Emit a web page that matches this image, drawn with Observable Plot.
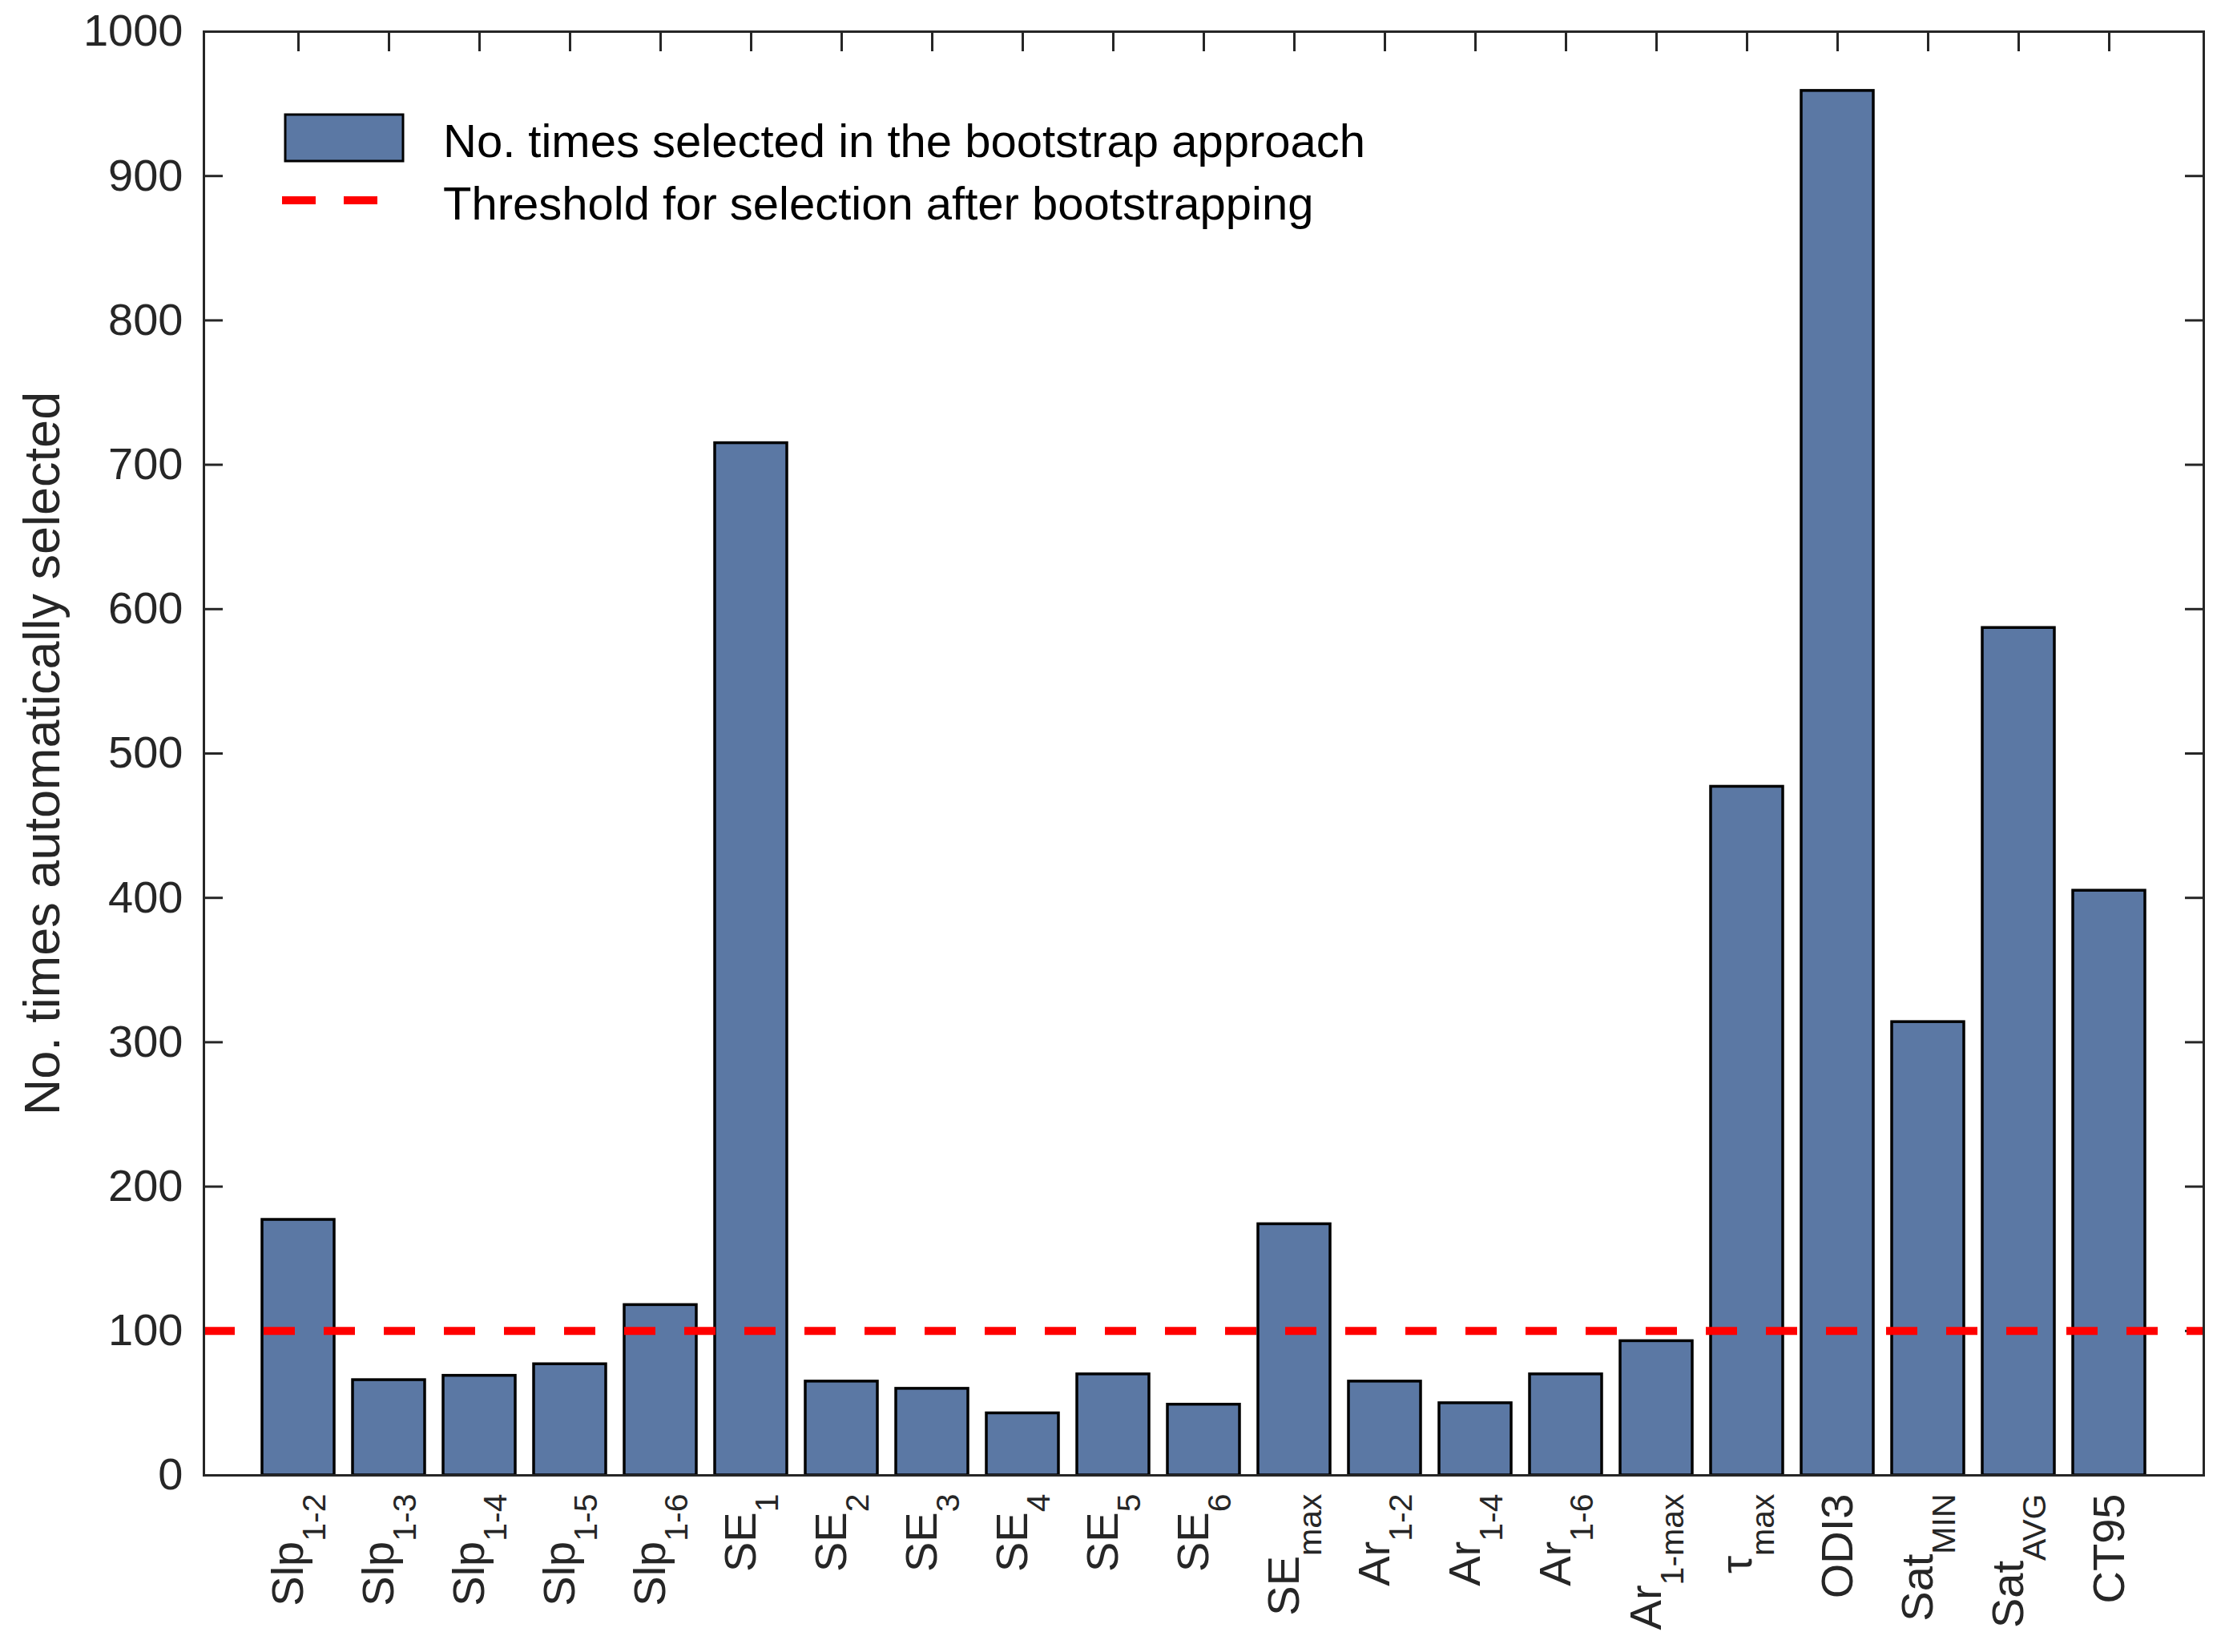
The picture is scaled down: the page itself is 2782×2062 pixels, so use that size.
<!DOCTYPE html>
<html>
<head>
<meta charset="utf-8">
<script src="https://cdn.jsdelivr.net/npm/d3@7"></script>
<script src="https://cdn.jsdelivr.net/npm/@observablehq/plot@0.6"></script>
<style>
  html, body { margin: 0; padding: 0; background: #fff; }
  #chart svg { display: block; }
</style>
</head>
<body>
<div id="chart"></div>
<script>
// ---- data ----
const labelMain = ["Slp","Slp","Slp","Slp","Slp","SE","SE","SE","SE","SE","SE","SE","Ar","Ar","Ar","Ar","τ","ODI3","Sat","Sat","CT95"];
const labelSub  = ["1-2","1-3","1-4","1-5","1-6","1","2","3","4","5","6","max","1-2","1-4","1-6","1-max","max","","MIN","AVG",""];
const timesSelected = [177,66,69,77,118,715,65,60,43,70,49,174,65,50,70,93,477,959,314,587,405];
const thresholdValue = [100];
const yTicks = [0,100,200,300,400,500,600,700,800,900,1000];
const legendLabels = ["No. times selected in the bootstrap approach", "Threshold for selection after bootstrapping"];

const rows = labelMain.map((m, i) => ({key: m + "_" + labelSub[i], main: m, sub: labelSub[i], value: timesSelected[i]}));
const keys = rows.map(d => d.key);
const subRows = rows.filter(d => d.sub !== "");

const barFill = "#5b78a4";
const axisColor = "#262626";
const font = "'Liberation Sans', Arial, Helvetica, sans-serif";

const W = 2782, H = 2062;
const mL = 254, mR = 32, mT = 39, mB = 221;

const chart = Plot.plot({
  width: W,
  height: H,
  marginLeft: mL,
  marginRight: mR,
  marginTop: mT,
  marginBottom: mB,
  style: {fontFamily: font, background: "#fff", color: axisColor},
  x: {type: "band", domain: keys, paddingInner: 0.2, paddingOuter: 0.6},
  y: {domain: [0, 1000]},
  marks: [
    // inward ticks on all four sides
    Plot.axisX({anchor: "top", tickSize: -24, tickFormat: () => "", label: null, stroke: axisColor, strokeWidth: 3}),
    Plot.axisX({anchor: "bottom", tickSize: -24, tickFormat: () => "", label: null, stroke: axisColor, strokeWidth: 3}),
    Plot.axisY({anchor: "left", ticks: yTicks, tickSize: -24, tickFormat: () => "", label: null, stroke: axisColor, strokeWidth: 3}),
    Plot.axisY({anchor: "right", ticks: yTicks, tickSize: -24, tickFormat: () => "", label: null, stroke: axisColor, strokeWidth: 3}),
    // y tick labels
    Plot.axisY({anchor: "left", ticks: yTicks, tickSize: 0, tickPadding: 26, tickFormat: d => String(d), label: null, fontSize: 56, fill: axisColor}),
    // bars
    Plot.barY(rows, {x: "key", y: "value", fill: barFill, stroke: "#000", strokeWidth: 3.5}),
    // threshold
    Plot.ruleY(thresholdValue, {stroke: "#ff0000", strokeWidth: 10, strokeDasharray: "39,36"}),
    // frame
    Plot.frame({stroke: axisColor, strokeWidth: 3}),
    // x labels (with subscript / without)
    Plot.text(rows, {filter: d => d.sub !== "", x: "key", frameAnchor: "bottom", text: "main", rotate: -90, textAnchor: "end", dy: 23, dx: 5, fontSize: 56, fill: axisColor, ariaLabel: () => "xlabel-sub"}),
    Plot.text(rows, {filter: d => d.sub === "", x: "key", frameAnchor: "bottom", text: "main", rotate: -90, textAnchor: "end", dy: 23, dx: 18, fontSize: 56, fill: axisColor, ariaLabel: () => "xlabel-plain"}),
    // y axis title
    Plot.text(["No. times automatically selected"], {frameAnchor: "left", text: d => d, rotate: -90, textAnchor: "middle", dx: -201, fontSize: 63, fill: axisColor})
  ]
});

document.getElementById("chart").appendChild(chart);

// add subscripts to x labels
const svg = d3.select(chart);
svg.selectAll('text[aria-label="xlabel-sub"]').each(function(d, j) {
  d3.select(this).append("tspan")
    .attr("dy", "28px")
    .attr("font-size", "41px")
    .text(subRows[j].sub);
});

// legend (inside frame, top-left)
const leg = svg.append("g").attr("class", "legend")
  .attr("font-family", font).attr("text-anchor", "start");
leg.append("rect")
  .attr("x", 356).attr("y", 143).attr("width", 147).attr("height", 58)
  .attr("fill", barFill).attr("stroke", "#000").attr("stroke-width", 3);
leg.append("line")
  .attr("x1", 352).attr("x2", 486).attr("y1", 250).attr("y2", 250)
  .attr("stroke", "#ff0000").attr("stroke-width", 10).attr("stroke-dasharray", "42,35");
leg.selectAll("text.item").data(legendLabels).join("text")
  .attr("class", "item")
  .attr("x", 553)
  .attr("y", (d, i) => 196 + i * 78)
  .attr("font-size", 58)
  .attr("text-anchor", "start")
  .attr("fill", "#000")
  .text(d => d);
</script>
</body>
</html>
